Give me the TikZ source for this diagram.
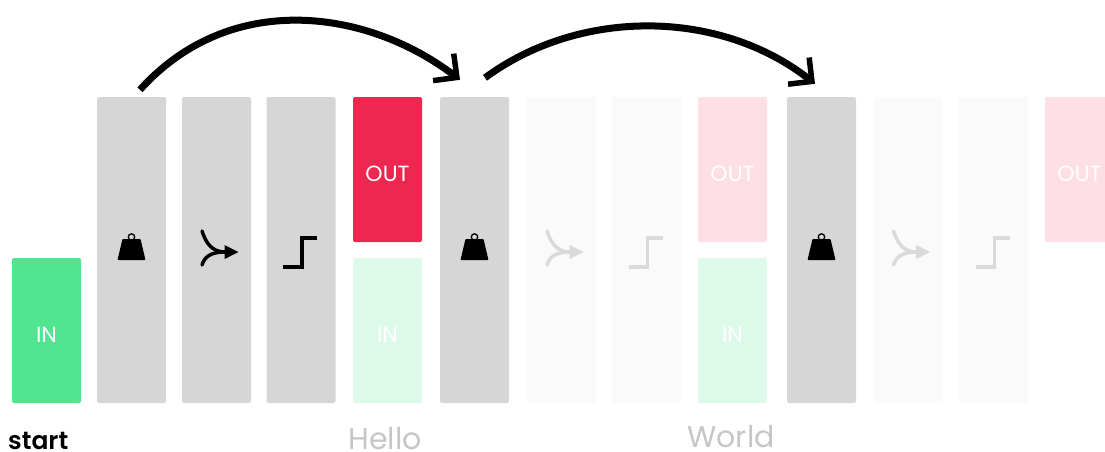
\documentclass[tikz,border=0pt]{standalone}
\usepackage{fontspec}
\setmainfont{Poppins}
\newfontfamily\startfont{Poppins SemiBold}
\usetikzlibrary{arrows.meta}
\definecolor{ingreen}{HTML}{50E590}
\definecolor{inpale}{HTML}{DDF9EA}
\definecolor{outred}{HTML}{EC2850}
\definecolor{outpale}{HTML}{FDDFE5}
\definecolor{gategrey}{HTML}{D6D6D6}
\definecolor{gatepale}{HTML}{FAFAFA}
\definecolor{iconpale}{HTML}{DADADA}
\definecolor{labelgrey}{HTML}{C6C6C6}
\tikzset{
  tallbox/.style={rounded corners=2pt, minimum width=69pt, minimum height=306pt, inner sep=0pt},
  halfbox/.style={rounded corners=2pt, minimum width=69pt, minimum height=145pt, inner sep=0pt,
    text=white, font=\fontsize{22}{24}\selectfont, text height=28pt, text depth=5pt},
  hop/.style={line width=7pt, -{Straight Barb[length=17pt,width=34pt,line width=5.5pt]}},
  pics/weighticon/.style={code={
    \fill[#1, rounded corners=0.8pt] (-14,10) -- (14,10) -- (9,-11) -- (-9,-11) -- cycle;
    \draw[#1, line width=1.3pt] (0,-13) circle (3.2);
  }},
  pics/mergeicon/.style={code={
    \draw[#1, line width=3.5pt, line cap=round] (-14.5,-19) .. controls (-11,-8) and (-5,2) .. (8,2);
    \draw[#1, line width=3.5pt, line cap=round] (-14.5,15) .. controls (-12,7) and (-6,2) .. (8,2);
    \fill[#1] (8,-5) -- (22,2) -- (8,9) -- cycle;
  }},
  pics/stepicon/.style={code={
    \draw[#1, line width=3.5pt] (-18,17) -- (1,17) -- (1,-12) -- (16,-12);
  }},
}
\begin{document}
\begin{tikzpicture}[x=1pt, y=-1pt]
    \useasboundingbox (0,0) rectangle (1105,452);
    % Boxes
    \node[halfbox, fill=ingreen] (inA) at (46.5,330.5) {IN};
    \node[tallbox, fill=gategrey] (weightA) at (131.5,250) {};
    \node[tallbox, fill=gategrey] (mergeA) at (216.5,250) {};
    \node[tallbox, fill=gategrey] (stepA) at (301,250) {};
    \node[halfbox, fill=outred] (outA) at (387.5,169.5) {OUT};
    \node[halfbox, fill=inpale] (inB) at (387.5,330.5) {IN};
    \node[tallbox, fill=gategrey] (weightB) at (474.5,250) {};
    \node[tallbox, fill=gatepale] (mergeB) at (561.5,250) {};
    \node[tallbox, fill=gatepale] (stepB) at (646.5,250) {};
    \node[halfbox, fill=outpale] (outB) at (732.5,169.5) {OUT};
    \node[halfbox, fill=inpale] (inC) at (732.5,330.5) {IN};
    \node[tallbox, fill=gategrey] (weightC) at (821.5,250) {};
    \node[tallbox, fill=gatepale] (mergeC) at (908,250) {};
    \node[tallbox, fill=gatepale] (stepC) at (993.5,250) {};
    \node[halfbox, fill=outpale] (outC) at (1079.5,169.5) {OUT};
    % Icons
    \pic at (weightA) {weighticon=black};
    \pic at (mergeA) {mergeicon=black};
    \pic at (stepA) {stepicon=black};
    \pic at (weightB) {weighticon=black};
    \pic at (mergeB) {mergeicon=iconpale};
    \pic at (stepB) {stepicon=iconpale};
    \pic at (weightC) {weighticon=black};
    \pic at (mergeC) {mergeicon=iconpale};
    \pic at (stepC) {stepicon=iconpale};
    % Arrows
    \draw[hop] ([shift={(8.5,-7)}]weightA.north) .. controls +(90,-100) and +(-93,-71) .. ([shift={(-14.5,-17)}]weightB.north);
    \draw[hop] ([shift={(10.5,-19)}]weightB.north) .. controls +(95,-70) and +(-95,-75) .. ([shift={(-6.5,-13)}]weightC.north);
    % Labels
    \node[anchor=base west, inner sep=0pt, font=\fontsize{25}{26}\selectfont\startfont] (startlabel) at (8,449) {start};
    \node[anchor=base, inner sep=0pt, text=labelgrey, font=\fontsize{30}{31}\selectfont] (hellolabel) at (385,449) {Hello};
    \node[anchor=base, inner sep=0pt, text=labelgrey, font=\fontsize{30}{31}\selectfont] (worldlabel) at (731,447) {World};
\end{tikzpicture}
\end{document}
